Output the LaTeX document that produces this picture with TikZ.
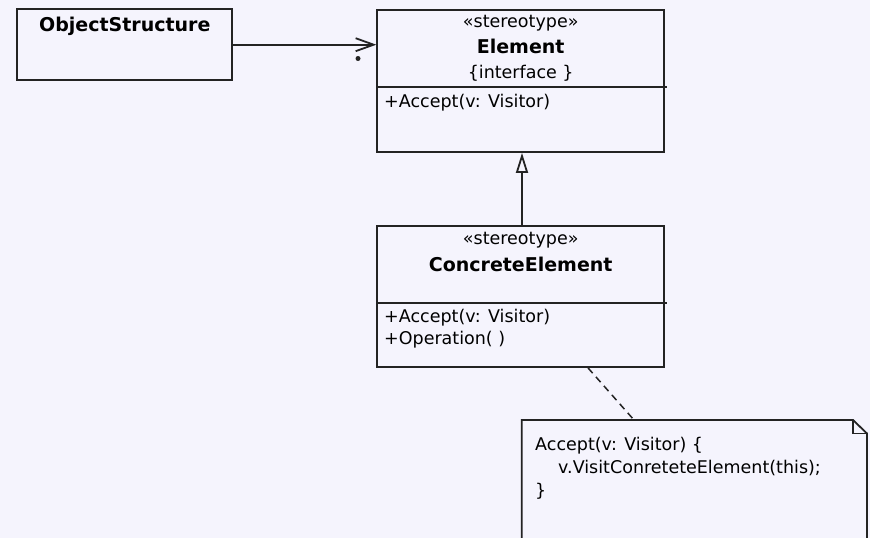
\documentclass[tikz,border=0pt]{standalone}
\usepackage{fontspec}
\setmainfont{DejaVu Sans}
\usetikzlibrary{arrows.meta}
\definecolor{umlbg}{RGB}{245,244,253}
\definecolor{umlline}{RGB}{35,35,35}

\begin{document}
\begin{tikzpicture}[x=1pt,y=-1pt]
    \tikzstyle{every node}+=[inner sep=0pt]
    \tikzstyle{classbox}=[draw=umlline, line width=1.8pt, rectangle]
    \tikzstyle{umlstroke}=[draw=umlline, line width=1.8pt]
    \tikzstyle{plain}=[font=\fontsize{17.5}{21}\selectfont, text=black]
    \tikzstyle{classname}=[font=\fontsize{19}{23}\selectfont\bfseries, text=black]
    \useasboundingbox [fill=umlbg] (0,0) rectangle (870,538);

    % ObjectStructure
    \node [classbox, minimum width=215, minimum height=71] (objstruct) at (124.8,44.7) {};
    \node [classname, anchor=base] (objstructname) at (124.8,31) {ObjectStructure};

    % Element
    \node [classbox, minimum width=287, minimum height=142] (element) at (520.7,81) {};
    \node [plain, anchor=base] (elstereo) at (520.7,27.5) {«stereotype»};
    \node [classname, anchor=base] (elname) at (520.7,53) {Element};
    \node [plain, anchor=base] (elprop) at (520.7,78) {\{interface \}};
    \draw [umlstroke] (element.west |- 0,87) -- ([xshift=2pt]element.east |- 0,87);
    \node [plain, anchor=base west] (elaccept) at (384,107) {+Accept(v: Visitor)};

    % ConcreteElement
    \node [classbox, minimum width=287, minimum height=141] (concrete) at (520.7,296.5) {};
    \node [plain, anchor=base] (cestereo) at (520.7,244) {«stereotype»};
    \node [classname, anchor=base] (cename) at (520.7,271) {ConcreteElement};
    \draw [umlstroke] (concrete.west |- 0,303) -- ([xshift=2pt]concrete.east |- 0,303);
    \node [plain, anchor=base west] (ceaccept) at (384,322.5) {+Accept(v: Visitor)};
    \node [plain, anchor=base west] (ceoperation) at (384,344) {+Operation( )};

    % association and generalization
    \draw [umlstroke, -{Straight Barb[length=18pt,width=13pt]}] (objstruct.east) -- (objstruct.east -| element.west);
    \coordinate (navdot) at (358,58.5);
    \fill [umlline] (navdot) circle (2.5);
    \draw [umlstroke, -{Triangle[length=20pt,width=12pt,fill=umlbg]}] (concrete.north -| 522,0) -- (element.south -| 522,0);

    % note
    \coordinate (notelink) at (concrete.south -| 588,0);
    \coordinate (noteanchor) at (634,420);
    \draw [umlstroke] (521.7,545) -- (521.7,420) -- (853,420) -- (867,433.5) -- (867,545);
    \draw [umlstroke] (853,420) -- (853,433.5) -- (867,433.5);
    \draw [umlstroke, line width=1.5pt, dash pattern=on 7pt off 5pt] (notelink) -- (noteanchor);
    \node [plain, anchor=base west] (noteline1) at (535,450) {Accept(v: Visitor) \{};
    \node [plain, anchor=base west] (noteline2) at (558,473) {v.VisitConreteteElement(this);};
    \node [plain, anchor=base west] (noteline3) at (535,496) {\}};
\end{tikzpicture}
\end{document}
